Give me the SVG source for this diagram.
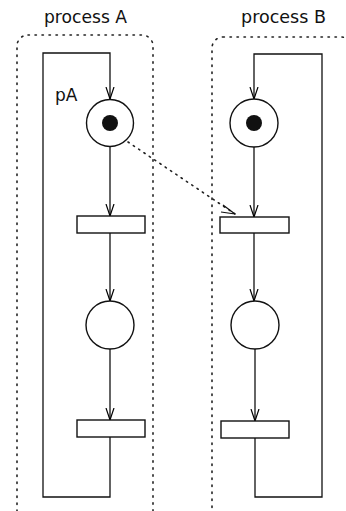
<svg xmlns="http://www.w3.org/2000/svg" width="346" height="511" viewBox="0 0 346 511">
<defs>
<marker id="arr" viewBox="0 0 12 10" refX="12" refY="5" markerWidth="12" markerHeight="10" markerUnits="userSpaceOnUse" orient="auto">
<path d="M0,1 L12,5 L0,9" fill="none" stroke="#000" stroke-width="1.2"/>
</marker>
</defs>
<style>
.lbl{font-family:"DejaVu Sans",sans-serif;font-size:17px;fill:#111}
.box{fill:none;stroke:#222;stroke-width:1.6;stroke-dasharray:1.4 5.6;stroke-linecap:round}
.ln{fill:none;stroke:#111;stroke-width:1.3}
.pl{fill:#fff;stroke:#111;stroke-width:1.4}
.tr{fill:#fff;stroke:#111;stroke-width:1.4}
.tok{fill:#111}
.dot{fill:none;stroke:#222;stroke-width:1.6;stroke-dasharray:1.4 5;stroke-linecap:round}
</style>
<rect width="346" height="511" fill="#fff"/>
<g id="processA">
<rect class="box" x="17" y="35" width="136" height="500" rx="11"/>
<text class="lbl" x="44" y="23" textLength="83" lengthAdjust="spacingAndGlyphs">process A</text>
</g>
<g id="processB">
<rect class="box" x="212" y="37" width="140" height="500" rx="11"/>
<text class="lbl" x="241" y="23" textLength="85" lengthAdjust="spacingAndGlyphs">process B</text>
</g>
<g id="connectors">
<path class="ln" d="M110,437 V497 H43 V53 H110 V99" marker-end="url(#arr)"/>
<path class="ln" d="M110,146 V216" marker-end="url(#arr)"/>
<path class="ln" d="M110,233 V301" marker-end="url(#arr)"/>
<path class="ln" d="M110,349 V420" marker-end="url(#arr)"/>
<path class="ln" d="M255,438 V497 H322 V54 H254 V99" marker-end="url(#arr)"/>
<path class="ln" d="M254,147 V217" marker-end="url(#arr)"/>
<path class="ln" d="M254,233 V301" marker-end="url(#arr)"/>
<path class="ln" d="M255,349 V421" marker-end="url(#arr)"/>
<path class="dot" d="M128,142 L235,214"/>
<path d="M223,205 L235,214 L221,212" fill="none" stroke="#111" stroke-width="1.2"/>
</g>
<g id="pA">
<circle class="pl" cx="110" cy="123" r="23.5"/>
<circle class="tok" cx="110" cy="123" r="8"/>
<text class="lbl" x="55" y="101">pA</text>
</g>
<g id="tA1"><rect class="tr" x="77" y="216" width="68" height="17"/></g>
<g id="pA2"><circle class="pl" cx="110" cy="325" r="24"/></g>
<g id="tA2"><rect class="tr" x="77" y="420" width="68" height="17"/></g>
<g id="pB1">
<circle class="pl" cx="254" cy="123" r="24"/>
<circle class="tok" cx="254" cy="123" r="8"/>
</g>
<g id="tB1"><rect class="tr" x="220" y="217" width="69" height="16"/></g>
<g id="pB2"><circle class="pl" cx="255" cy="325" r="24"/></g>
<g id="tB2"><rect class="tr" x="221" y="421" width="68" height="17"/></g>
</svg>
